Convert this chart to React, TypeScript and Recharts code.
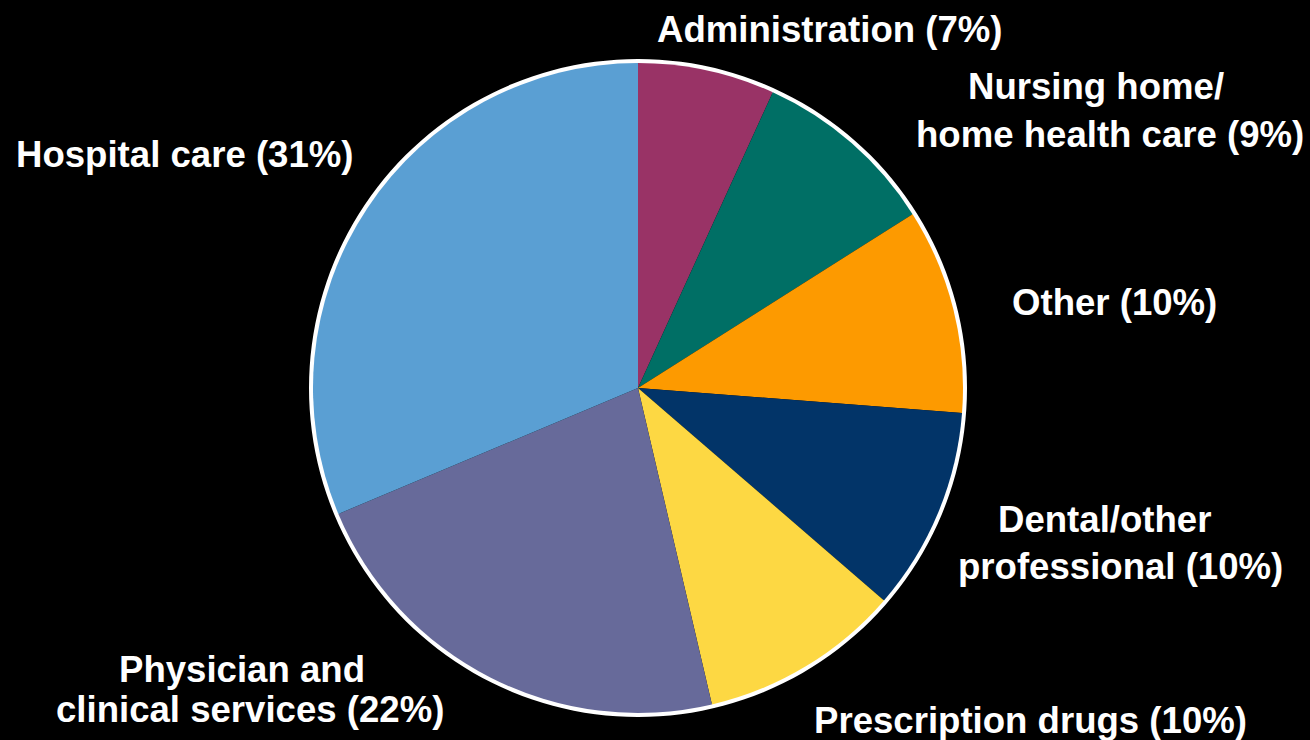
import React from 'react';
import { PieChart, Pie, Cell } from 'recharts';

const categories = [
  'Administration',
  'Nursing home/home health care',
  'Other',
  'Dental/other professional',
  'Prescription drugs',
  'Physician and clinical services',
  'Hospital care',
];

const shares = [6.8, 9.2, 10.2, 10.1, 10.0, 22.3, 31.3];

const labelLines = [
  ['Administration (7%)'],
  ['Nursing home/', 'home health care (9%)'],
  ['Other (10%)'],
  ['Dental/other', 'professional (10%)'],
  ['Prescription drugs (10%)'],
  ['Physician and', 'clinical services (22%)'],
  ['Hospital care (31%)'],
];

const colors = ['#993366', '#006f65', '#fd9a00', '#023468', '#fdd843', '#676a9a', '#5a9fd3'];

// where each label sits (left x, baseline of each line)
const labelLayout = [
  { x: [657], y: [42] },
  { x: [968, 916], y: [99, 147] },
  { x: [1012], y: [315] },
  { x: [998, 958], y: [532, 579] },
  { x: [814], y: [733] },
  { x: [119, 56], y: [682, 722] },
  { x: [16], y: [167] },
];

const data = categories.map((name, i) => ({ name, value: shares[i] }));
const ring = [{ name: 'ring', value: 1 }];

const renderLabel = (props: any) => {
  const i = props.index;
  const pos = labelLayout[i];
  return (
    <g key={`lbl-${i}`}>
      {labelLines[i].map((line, j) => (
        <text
          key={j}
          x={pos.x[j]}
          y={pos.y[j]}
          fill="#ffffff"
          fontSize={36.6}
          fontWeight="bold"
          fontFamily="'Liberation Sans', Arial, sans-serif"
          textAnchor="start"
        >
          {line}
        </text>
      ))}
    </g>
  );
};

export default function App() {
  return (
    <div style={{ position: 'absolute', left: 0, top: 0, width: 1310, height: 740, background: '#000' }}>
      <PieChart width={1310} height={740} margin={{ top: 0, right: 0, bottom: 0, left: 0 }}>
        <Pie
          data={ring}
          dataKey="value"
          cx={638}
          cy={388}
          innerRadius={324}
          outerRadius={329}
          startAngle={90}
          endAngle={-270}
          fill="#ffffff"
          stroke="none"
          isAnimationActive={false}
        />
        <Pie
          data={data}
          dataKey="value"
          cx={638}
          cy={388}
          outerRadius={325}
          startAngle={90}
          endAngle={-270}
          stroke="none"
          label={renderLabel}
          labelLine={false}
          isAnimationActive={false}
        >
          {data.map((d, i) => (
            <Cell key={d.name} fill={colors[i]} />
          ))}
        </Pie>
      </PieChart>
    </div>
  );
}
